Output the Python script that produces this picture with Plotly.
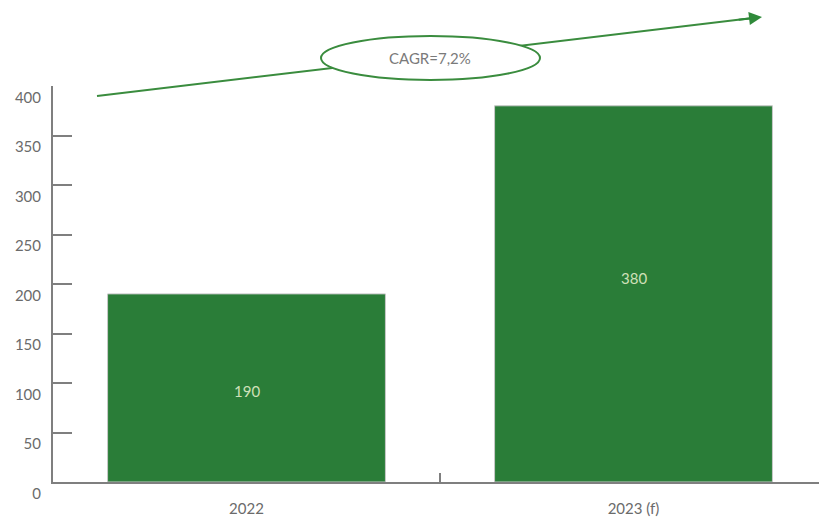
import plotly.graph_objects as go

categories = ["2022", "2023 (f)"]
values = [190, 380]
value_labels = ["190", "380"]
y_ticks = [0, 50, 100, 150, 200, 250, 300, 350, 400]
cagr_text = "CAGR=7,2%"

GREEN = "#2a7d38"
GRAY = "#7f7f7f"
TXT = "#6b6b6b"
FONT = "Lato"

fig = go.Figure()
fig.add_trace(go.Bar(
    x=categories, y=values, width=0.718,
    marker=dict(color=GREEN, line=dict(color="#c8c8c8", width=1)),
    hoverinfo="skip",
))

# value labels inside the bars (slightly offset like the source)
label_shift = [-3, 16]
for i, (v, lab, sh) in enumerate(zip(values, value_labels, label_shift)):
    fig.add_annotation(x=i, y=v / 2, text=lab, showarrow=False,
                       yshift=sh, xanchor="center", yanchor="middle",
                       font=dict(color="#cfe0b8", size=15, family=FONT))

# page body has an 8px default margin; figure is sized/placed to compensate
OFF = 8
W, H = 827 - OFF, 518 - OFF
ml, mr, mt, mb = 53 - OFF, 0, 86 - OFF, 36
pw, ph = W - ml - mr, H - mt - mb

def px(x):
    return (x - OFF - ml) / pw

def py(y):
    return (H - mb - (y - OFF)) / ph

# arrow line (tail -> head), ellipse on top, then arrowhead
tail = (97, 96)
head = (762, 17)
fig.add_shape(type="line", xref="paper", yref="paper",
              x0=px(tail[0]), y0=py(tail[1]), x1=px(head[0] - 5), y1=py(head[1] + 0.6),
              line=dict(color="#3a8c3e", width=2))
fig.add_shape(type="circle", xref="paper", yref="paper",
              x0=px(321), x1=px(540), y0=py(80), y1=py(36),
              fillcolor="white", line=dict(color="#3a8c3e", width=2), layer="above")
dx, dy = tail[0] - head[0], tail[1] - head[1]
L = (dx * dx + dy * dy) ** 0.5
fig.add_annotation(xref="paper", yref="paper", x=px(head[0]), y=py(head[1]),
                   ax=dx / L * 25, ay=dy / L * 25, axref="pixel", ayref="pixel",
                   showarrow=True, arrowhead=2, arrowsize=1.3, arrowwidth=2,
                   arrowcolor="#2f8a3a", text="")
fig.add_annotation(xref="paper", yref="paper", x=px(430), y=py(58),
                   xanchor="center", yanchor="middle",
                   text=cagr_text, showarrow=False,
                   font=dict(size=15, color="#7a7a7a", family=FONT))

fig.update_layout(
    width=W, height=H,
    margin=dict(l=ml, r=mr, t=mt, b=mb, autoexpand=False),
    paper_bgcolor="white", plot_bgcolor="white",
    showlegend=False, bargap=0.28,
    font=dict(family=FONT, color=TXT, size=15),
)
fig.update_yaxes(
    range=[0, 400], tickvals=y_ticks, showgrid=False, zeroline=False,
    automargin=False,
    showline=True, linecolor=GRAY, linewidth=2,
    ticks="inside", ticklen=19, tickwidth=2, tickcolor=GRAY,
    ticklabelposition="outside bottom", ticklabelstandoff=7,
    tickfont=dict(size=15, color=TXT, family=FONT),
)
fig.update_xaxes(
    type="category",
    range=[-0.5, 1.5], showgrid=False, zeroline=False,
    automargin=False,
    showline=True, linecolor=GRAY, linewidth=2,
    ticks="inside", tickson="boundaries", ticklen=9, tickwidth=2, tickcolor=GRAY,
    ticklabelstandoff=12,
    tickfont=dict(size=15, color=TXT, family=FONT),
)

fig.write_html("out.html")
